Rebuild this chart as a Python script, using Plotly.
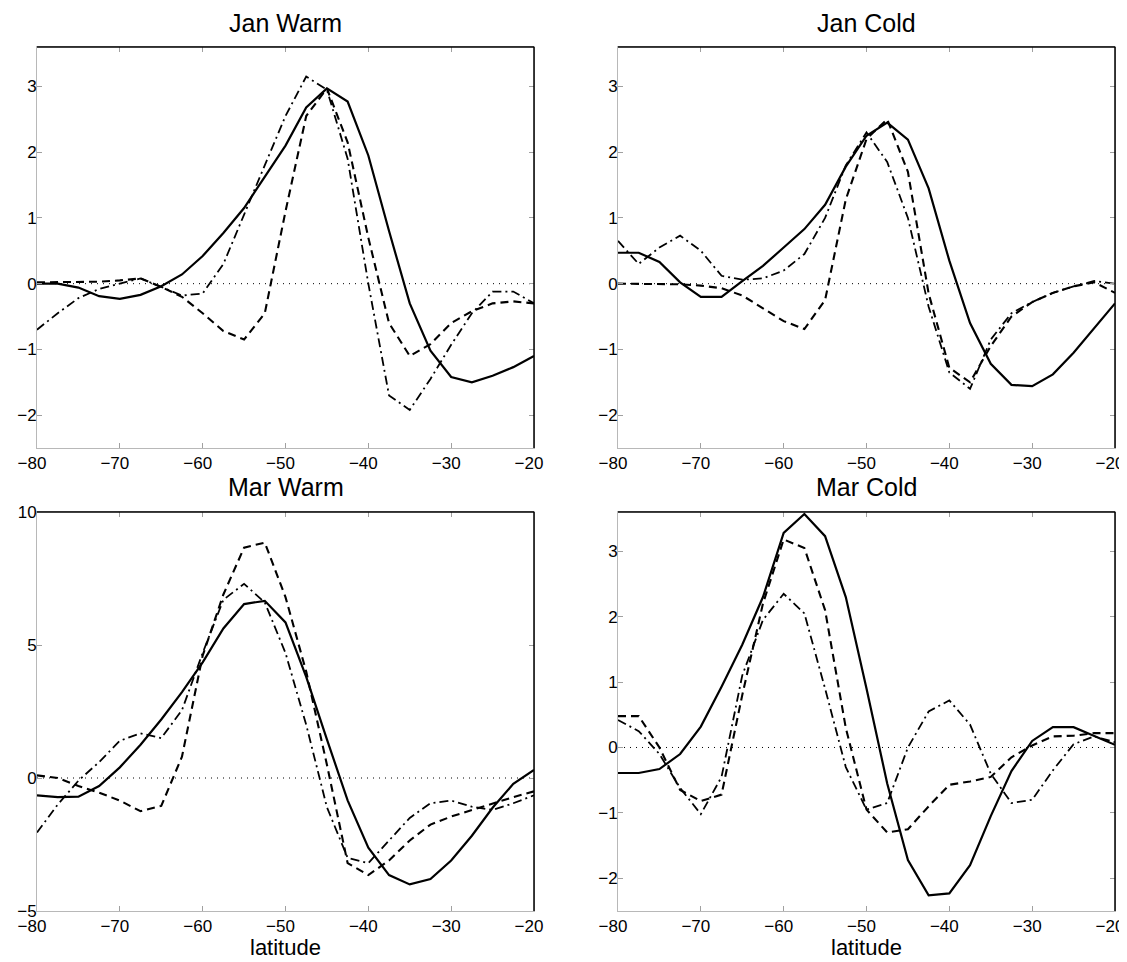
import plotly.graph_objects as go

# latitude grid (degrees)
lat = [-80, -77.5, -75, -72.5, -70, -67.5, -65, -62.5, -60, -57.5, -55, -52.5, -50,
       -47.5, -45, -42.5, -40, -37.5, -35, -32.5, -30, -27.5, -25, -22.5, -20]

# Jan Warm
jw_solid = [0, 0, -0.06, -0.19, -0.23, -0.17, -0.04, 0.14, 0.42, 0.77, 1.15, 1.62, 2.1,
            2.68, 2.97, 2.77, 1.95, 0.8, -0.3, -1.02, -1.42, -1.5, -1.4, -1.27, -1.1]
jw_dash = [0.02, 0.02, 0.02, 0.03, 0.05, 0.08, -0.05, -0.2, -0.45, -0.72, -0.85, -0.45, 1.1,
           2.55, 2.97, 2.15, 0.7, -0.6, -1.1, -0.92, -0.6, -0.42, -0.3, -0.27, -0.3]
jw_dd = [-0.7, -0.45, -0.22, -0.08, 0.0, 0.08, -0.05, -0.18, -0.15, 0.3, 1.05, 1.8, 2.55,
         3.15, 2.95, 1.9, 0.0, -1.7, -1.92, -1.45, -0.93, -0.45, -0.12, -0.12, -0.3]

# Jan Cold
jc_solid = [0.47, 0.47, 0.33, 0.02, -0.2, -0.2, 0.04, 0.27, 0.55, 0.83, 1.2, 1.78, 2.25,
            2.45, 2.19, 1.45, 0.35, -0.6, -1.22, -1.54, -1.56, -1.38, -1.05, -0.68, -0.3]
jc_dash = [0.0, 0.0, 0.0, -0.01, -0.03, -0.07, -0.18, -0.37, -0.57, -0.69, -0.25, 1.28, 2.2,
           2.5, 1.7, -0.15, -1.28, -1.5, -0.95, -0.5, -0.28, -0.14, -0.04, 0.02, -0.14]
jc_dd = [0.65, 0.3, 0.55, 0.73, 0.5, 0.12, 0.06, 0.08, 0.2, 0.45, 1.0, 1.8, 2.3,
         1.85, 1.0, -0.35, -1.35, -1.6, -0.85, -0.45, -0.28, -0.14, -0.04, 0.04, 0.0]

# Mar Warm
mw_solid = [-0.65, -0.72, -0.7, -0.3, 0.4, 1.25, 2.2, 3.23, 4.35, 5.62, 6.54, 6.66, 5.85,
            3.8, 1.45, -0.84, -2.62, -3.65, -4.0, -3.8, -3.1, -2.17, -1.12, -0.22, 0.3]
mw_dash = [0.1, 0.0, -0.3, -0.55, -0.85, -1.25, -1.05, 0.8, 4.6, 6.9, 8.66, 8.85, 6.8,
           4.0, 0.5, -3.2, -3.65, -3.1, -2.35, -1.75, -1.45, -1.2, -0.95, -0.72, -0.5]
mw_dd = [-2.05, -1.0, -0.1, 0.6, 1.4, 1.68, 1.5, 2.55, 4.7, 6.7, 7.3, 6.6, 4.7,
         2.0, -1.1, -3.0, -3.2, -2.35, -1.5, -0.95, -0.85, -1.08, -1.2, -0.95, -0.65]

# Mar Cold
mc_solid = [-0.39, -0.39, -0.33, -0.1, 0.32, 0.93, 1.57, 2.3, 3.28, 3.57, 3.23, 2.3, 0.9,
            -0.55, -1.72, -2.26, -2.23, -1.8, -1.05, -0.36, 0.1, 0.31, 0.31, 0.18, 0.04]
mc_dash = [0.48, 0.48, 0.0, -0.65, -0.82, -0.72, 0.8, 2.2, 3.18, 3.05, 2.1, 0.3, -0.95,
           -1.3, -1.25, -0.9, -0.57, -0.52, -0.45, -0.15, 0.03, 0.17, 0.18, 0.22, 0.22]
mc_dd = [0.42, 0.25, -0.1, -0.62, -1.02, -0.45, 1.1, 1.95, 2.35, 2.05, 0.9, -0.3, -0.95,
         -0.85, 0.0, 0.55, 0.72, 0.35, -0.4, -0.85, -0.8, -0.35, 0.05, 0.17, 0.08]

panels = [
    ("Jan Warm", jw_solid, jw_dash, jw_dd, [-2.5, 3.6], [-2, -1, 0, 1, 2, 3]),
    ("Jan Cold", jc_solid, jc_dash, jc_dd, [-2.5, 3.6], [-2, -1, 0, 1, 2, 3]),
    ("Mar Warm", mw_solid, mw_dash, mw_dd, [-5, 10], [-5, 0, 5, 10]),
    ("Mar Cold", mc_solid, mc_dash, mc_dd, [-2.5, 3.6], [-2, -1, 0, 1, 2, 3]),
]

xticks = [-80, -70, -60, -50, -40, -30, -20]

# the page body adds an 8 px offset; figure is sized so that it fits the window
OFF = 8
W, H = 1127 - OFF, 962 - OFF


def px_x(p):
    return (p - OFF) / W


def px_y(p):
    return 1 - (p - OFF) / H


col_dom = [[px_x(37), px_x(534)], [px_x(618), px_x(1115)]]
row_dom = [[px_y(448), px_y(47)], [px_y(911), px_y(512)]]
title_y = [px_y(23), px_y(487)]

FONT = "Liberation Sans, Arial, Helvetica, sans-serif"
fig = go.Figure()

styles = [("solid", 2.2), ("8px,5px", 2.1), ("9px,4px,2px,4px", 1.8)]

shapes = []
annotations = []
for i, (title, s, d, dd, yr, yt) in enumerate(panels):
    r, c = divmod(i, 2)
    n = i + 1
    xa = "x" if n == 1 else f"x{n}"
    ya = "y" if n == 1 else f"y{n}"
    for vals, (dash, w) in zip([s, d, dd], styles):
        fig.add_trace(go.Scatter(x=lat, y=vals, mode="lines", xaxis=xa, yaxis=ya,
                                 line=dict(color="black", width=w, dash=dash),
                                 showlegend=False, hoverinfo="skip", cliponaxis=False))
    axcommon = dict(showgrid=False, zeroline=False, showline=True, linecolor="#b8b8b8",
                    linewidth=1, mirror="ticks", ticks="inside", ticklen=5,
                    tickcolor="#a0a0a0", tickwidth=1, automargin=False,
                    ticklabeloverflow="allow",
                    tickfont=dict(family=FONT, size=17, color="black"))
    fig.layout[f"xaxis{'' if n == 1 else n}"] = dict(
        axcommon, domain=col_dom[c], range=[-80, -20], tickvals=xticks,
        ticklabelshift=-5, anchor=ya)
    fig.layout[f"yaxis{'' if n == 1 else n}"] = dict(
        axcommon, domain=row_dom[r], range=yr, tickvals=yt, anchor=xa,
        ticklabelstandoff=-4)
    xd = f"{xa} domain"
    yd = f"{ya} domain"
    # dotted zero reference line
    shapes.append(dict(type="line", xref=xd, yref=ya, x0=0, x1=1, y0=0, y1=0,
                       line=dict(color="black", width=1, dash="1px,5px"), layer="below"))
    # black top and right frame edges
    shapes.append(dict(type="line", xref=xd, yref=yd, x0=0, x1=1, y0=1, y1=1,
                       line=dict(color="black", width=1.5)))
    shapes.append(dict(type="line", xref=xd, yref=yd, x0=1, x1=1, y0=0, y1=1,
                       line=dict(color="black", width=1.5)))
    annotations.append(dict(text=title, xref=xd, x=0.5, yref="paper", y=title_y[r],
                            xanchor="center", yanchor="middle", showarrow=False,
                            font=dict(family=FONT, size=25, color="black")))
    if r == 1:
        annotations.append(dict(text="latitude", xref=xd, x=0.5, yref="paper",
                                y=px_y(947), xanchor="center", yanchor="middle",
                                showarrow=False,
                                font=dict(family=FONT, size=22, color="black")))

fig.update_layout(width=W, height=H, margin=dict(l=0, r=0, t=0, b=0),
                  paper_bgcolor="white", plot_bgcolor="white",
                  shapes=shapes, annotations=annotations, showlegend=False)

fig.write_html("out.html")
